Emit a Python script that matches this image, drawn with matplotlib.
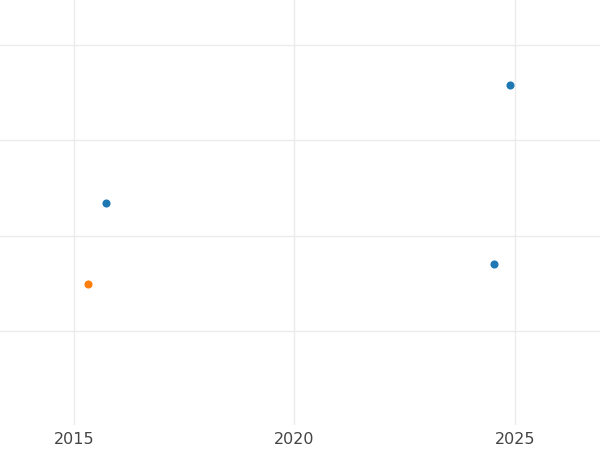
import matplotlib
matplotlib.use('Agg')
from matplotlib import pyplot as plt

# 数据
blue_x = [2015.73, 2024.89, 2024.52]
blue_y = [2.34, 3.58, 1.70]
orange_x = [2015.32]
orange_y = [1.49]
xticks = [2015, 2020, 2025]
yticks = [1, 2, 3, 4]

fig = plt.figure(figsize=(6, 4.5), dpi=100)
ax = fig.add_axes([0, 0.055, 1, 0.945])

ax.scatter(blue_x, blue_y, s=34, color='#1f77b4', zorder=3, linewidths=0)
ax.scatter(orange_x, orange_y, s=34, color='#ff7f0e', zorder=3, linewidths=0)

ax.set_xlim(2013.32, 2026.93)
ax.set_ylim(0.01, 4.47)
ax.set_xticks(xticks)
ax.set_yticks(yticks)
ax.set_yticklabels([])
ax.grid(True, color='#ebebeb', linewidth=1.0)
ax.set_axisbelow(True)
for s in ax.spines.values():
    s.set_visible(False)
ax.tick_params(length=0, labelsize=11.5, colors='#444444', pad=5)

fig.savefig('out.png', dpi=100, facecolor='white')
